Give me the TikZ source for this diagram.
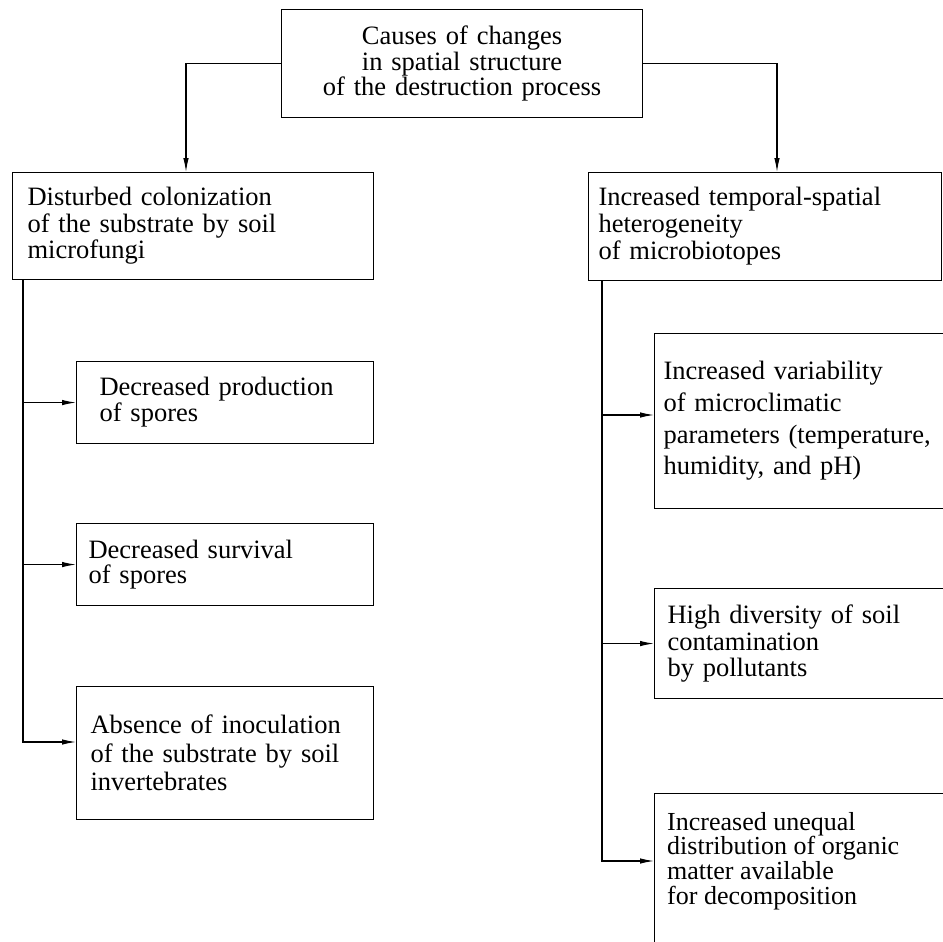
\documentclass[tikz,border=0pt]{standalone}
\usepackage{fontspec}
\setmainfont{Liberation Serif}
\usetikzlibrary{arrows.meta}
\begin{document}
\begin{tikzpicture}[x=1pt,y=-1pt,
  boxnode/.style={draw, line width=1.1pt, rectangle, inner ysep=0pt, anchor=north west, align=left},
  arr/.style={line width=1.1pt, -{Latex[length=14pt,width=5.5pt]}},
  ln/.style={line width=1.1pt}]
\useasboundingbox (0,0) rectangle (943,942);
\clip (0,0) rectangle (943,942);
% top
\node[boxnode, align=center, inner xsep=5pt, text width=351pt, minimum width=361pt, minimum height=108pt,
  font={\fontsize{26.5pt}{25.5pt}\selectfont}] (top) at (281,9)
  {Causes of changes\\in spatial structure\\of the destruction process};
% left column
\node[boxnode, inner xsep=15pt, text width=331pt, minimum width=361pt, minimum height=107pt,
  font={\fontsize{26.5pt}{26.5pt}\selectfont}] (l1) at (12,172)
  {Disturbed colonization\\of the substrate by soil\\microfungi};
\node[boxnode, inner xsep=23pt, text width=251pt, minimum width=297pt, minimum height=82pt,
  font={\fontsize{26.5pt}{26pt}\selectfont}] (l2) at (76,361)
  {Decreased production\\of spores};
\node[boxnode, inner xsep=12pt, text width=273pt, minimum width=297pt, minimum height=82pt,
  font={\fontsize{26.5pt}{25.5pt}\selectfont}] (l3) at (76,523)
  {Decreased survival\\of spores};
\node[boxnode, inner xsep=14pt, text width=269pt, minimum width=297pt, minimum height=133pt,
  font={\fontsize{26.5pt}{28.5pt}\selectfont}] (l4) at (76,686)
  {Absence of inoculation\\of the substrate by soil\\invertebrates};
% right column
\node[boxnode, inner xsep=10pt, text width=333pt, minimum width=353pt, minimum height=108pt,
  font={\fontsize{26.5pt}{27pt}\selectfont}] (r1) at (588,172)
  {Increased temporal-spatial\\heterogeneity\\of microbiotopes};
\node[boxnode, inner xsep=9pt, text width=318pt, minimum width=336pt, minimum height=175pt,
  font={\fontsize{26.5pt}{31.7pt}\selectfont}] (r2) at (654,333)
  {Increased variability\\of microclimatic\\parameters (temperature,\\humidity, and pH)};
\node[boxnode, inner xsep=13pt, text width=310pt, minimum width=336pt, minimum height=110pt,
  font={\fontsize{26.5pt}{26.5pt}\selectfont}] (r3) at (654,588)
  {High diversity of soil\\contamination\\by pollutants};
\node[boxnode, minimum width=336pt, minimum height=200pt] (r4) at (654,793) {};
\node[anchor=west, inner sep=0pt, align=left, font={\fontsize{26pt}{24.8pt}\selectfont}] (r4t) at (667,861)
  {Increased unequal\\distribution of organic\\matter available\\for decomposition};
% coordinates
\coordinate (lx) at (186,0);
\coordinate (rx) at (777,0);
\coordinate (lt) at (23,0);
\coordinate (rt) at (602,0);
\coordinate (l4in) at (76,742);
\coordinate (r2in) at (654,415);
\coordinate (r4in) at (654,861);
% connectors
\draw[arr] (top.west) -| (lx |- l1.north);
\draw[arr] (top.east) -| (rx |- r1.north);
\draw[arr] (lt |- l1.south) |- (l4in);
\draw[arr] (lt |- l2.west) -- (l2.west);
\draw[arr] (lt |- l3.west) -- (l3.west);
\draw[arr] (rt |- r1.south) |- (r4in);
\draw[arr] (rt |- r2in) -- (r2in);
\draw[arr] (rt |- r3.west) -- (r3.west);
\end{tikzpicture}
\end{document}
